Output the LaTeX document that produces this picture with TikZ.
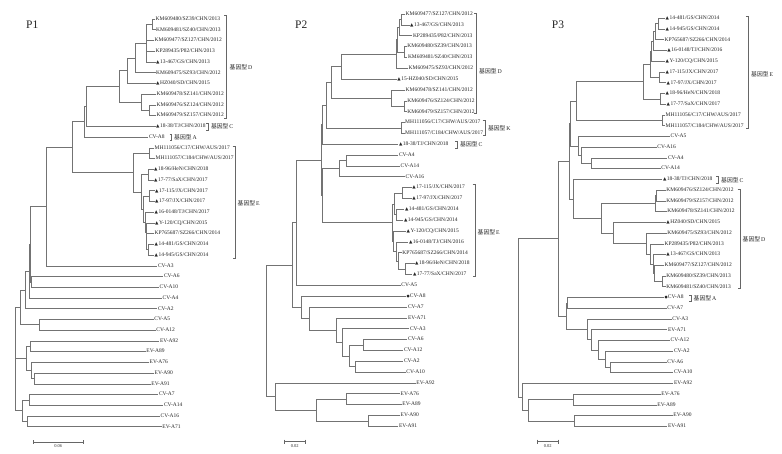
\documentclass[tikz,border=0pt]{standalone}
\usepackage{fontspec}
\setmainfont{Liberation Serif}
\newfontfamily\cjkfont{Noto Sans CJK SC}
\newfontfamily\symfont{DejaVu Sans}
\newcommand\lblsize{\fontsize{5.5}{6.5}\selectfont}
\newcommand\tri{{\symfont\fontsize{4.4}{5}\selectfont ▲}\hspace{0.5pt}}
\newcommand\dotm{{\symfont\fontsize{3.6}{5}\selectfont ●}}
\newcommand\gtlabel[1]{{\cjkfont\fontsize{5.8}{6.5}\selectfont 基因型}\,#1}
\newcommand\tedges[2]{\foreach \c in {#2}{\draw[br] (#1) |- (\c);}}
\tikzset{
  br/.style={draw=black!55, line width=0.55pt},
  leaf/.style={anchor=west, inner xsep=0.5pt, inner ysep=0pt, font=\lblsize, text=black!85, text height=3.8pt, text depth=1.1pt},
  gtype/.style={anchor=west, inner sep=0pt, font=\fontsize{5.8}{6.5}\selectfont, text=black!85},
  brk/.style={draw=black!60, line width=0.5pt},
  ptitle/.style={anchor=base west, inner sep=0pt, font=\fontsize{11.5}{12}\selectfont, text=black!85},
  sbar/.style={draw=black!60, line width=0.5pt},
  slabel/.style={anchor=north, inner sep=0pt, font=\fontsize{4.5}{5}\selectfont, text=black!80}
}
\begin{document}
\begin{tikzpicture}[x=1pt,y=-1pt]
\fill[white] (0,0) rectangle (782,453);
\useasboundingbox (0,0) rectangle (782,453);

%% ================= P1 =================
\node[ptitle] (t1) at (26,28.7) {P1};
\node[leaf] (p1l1) at (155,19.0) {KM609480/SZ39/CHN/2013};
\node[leaf] (p1l2) at (155.5,29.7) {KM609481/SZ40/CHN/2013};
\node[leaf] (p1l3) at (154,40.5) {KM609477/SZ127/CHN/2012};
\node[leaf] (p1l4) at (155,51.2) {KP289435/P82/CHN/2013};
\node[leaf] (p1l5) at (155.5,61.9) {\tri 13-467/GS/CHN/2013};
\node[leaf] (p1l6) at (155.5,72.7) {KM609475/SZ93/CHN/2012};
\node[leaf] (p1l7) at (155.5,83.4) {\tri HZ040/SD/CHN/2015};
\node[leaf] (p1l8) at (156,94.1) {KM609478/SZ141/CHN/2012};
\node[leaf] (p1l9) at (156,104.8) {KM609476/SZ124/CHN/2012};
\node[leaf] (p1l10) at (156,115.6) {KM609479/SZ157/CHN/2012};
\node[leaf] (p1l11) at (155.5,126.3) {\tri 18-38/TJ/CHN/2018};
\node[leaf] (p1l12) at (148.3,137.0) {CV-A8};
\node[leaf] (p1l13) at (154,147.8) {MH111056/C17/CHW/AUS/2017};
\node[leaf] (p1l14) at (155,158.5) {MH111057/C184/CHW/AUS/2017};
\node[leaf] (p1l15) at (153.5,169.2) {\tri 18-96/HeN/CHN/2018};
\node[leaf] (p1l16) at (153.5,179.9) {\tri 17-77/SaX/CHN/2017};
\node[leaf] (p1l17) at (154.5,190.7) {\tri 17-115/JX/CHN/2017};
\node[leaf] (p1l18) at (154.5,201.4) {\tri 17-97/JX/CHN/2017};
\node[leaf] (p1l19) at (154,212.1) {\tri 16-0148/TJ/CHN/2017};
\node[leaf] (p1l20) at (154.5,222.9) {\tri Y-120/CQ/CHN/2015};
\node[leaf] (p1l21) at (154,233.6) {KP765687/SZ266/CHN/2014};
\node[leaf] (p1l22) at (154,244.3) {\tri 14-481/GS/CHN/2014};
\node[leaf] (p1l23) at (154,255.0) {\tri 14-945/GS/CHN/2014};
\node[leaf] (p1l24) at (157.3,265.8) {CV-A3};
\node[leaf] (p1l25) at (163.3,276.5) {CV-A6};
\node[leaf] (p1l26) at (159,287.2) {CV-A10};
\node[leaf] (p1l27) at (162,298.0) {CV-A4};
\node[leaf] (p1l28) at (157.3,308.7) {CV-A2};
\node[leaf] (p1l29) at (153.7,319.4) {CV-A5};
\node[leaf] (p1l30) at (155.7,330.1) {CV-A12};
\node[leaf] (p1l31) at (159.3,340.9) {EV-A92};
\node[leaf] (p1l32) at (145.7,351.6) {EV-A89};
\node[leaf] (p1l33) at (149,362.3) {EV-A76};
\node[leaf] (p1l34) at (154,373.1) {EV-A90};
\node[leaf] (p1l35) at (150.7,383.8) {EV-A91};
\node[leaf] (p1l36) at (158.3,394.5) {CV-A7};
\node[leaf] (p1l37) at (163.3,405.2) {CV-A14};
\node[leaf] (p1l38) at (160,416.0) {CV-A16};
\node[leaf] (p1l39) at (161.7,426.7) {EV-A71};

\coordinate (p1a) at (152.5,24.35);
\coordinate (p1b) at (146,43.1);
\coordinate (p1c) at (135.7,57.9);
\coordinate (p1d) at (127.3,70.7);
\coordinate (p1e) at (149.3,110.2);
\coordinate (p1f) at (141,102.2);
\coordinate (p1g) at (119.7,86.45);
\coordinate (p1h) at (86.7,106.4);
\coordinate (p1i) at (84.3,121.7);
\coordinate (p1j) at (149,153.15);
\coordinate (p1k) at (148.5,174.55);
\coordinate (p1l) at (149.5,196.05);
\coordinate (p1m) at (148.5,249.65);
\coordinate (p1n) at (146.7,241.6);
\coordinate (p1o) at (146,232.25);
\coordinate (p1p) at (145.3,222.2);
\coordinate (p1q) at (143.3,209.1);
\coordinate (p1r) at (141.7,191.8);
\coordinate (p1s) at (133.3,172.5);
\coordinate (p1t) at (72.7,147.1);
\coordinate (p1u) at (46.7,206.45);
\coordinate (p1v) at (31.7,281.85);
\coordinate (p1w) at (30.7,244.15);
\coordinate (p1x) at (29.3,271.1);
\coordinate (p1y) at (25,289.9);
\coordinate (p1z) at (39.3,324.75);
\coordinate (p1A) at (20.7,307.3);
\coordinate (p1B) at (30.7,346.25);
\coordinate (p1C) at (34,378.45);
\coordinate (p1D) at (31.7,370.4);
\coordinate (p1E) at (26.7,358.3);
\coordinate (p1F) at (29.3,399.85);
\coordinate (p1G) at (27.3,421.35);
\coordinate (p1H) at (22.7,410.6);
\coordinate (p1I) at (15.7,332.8);
\coordinate (p1J) at (15.7,371.7);

\tedges{p1a}{p1l1.west,p1l2.west}
\tedges{p1b}{p1a,p1l3.west,p1l4.west,p1l5.west}
\tedges{p1c}{p1b,p1l6.west}
\tedges{p1d}{p1c,p1l7.west}
\tedges{p1e}{p1l9.west,p1l10.west}
\tedges{p1f}{p1l8.west,p1e}
\tedges{p1g}{p1d,p1f}
\tedges{p1h}{p1g,p1l11.west}
\tedges{p1i}{p1h,p1l12.west}
\tedges{p1j}{p1l13.west,p1l14.west}
\tedges{p1k}{p1l15.west,p1l16.west}
\tedges{p1l}{p1l17.west,p1l18.west}
\tedges{p1m}{p1l22.west,p1l23.west}
\tedges{p1n}{p1l21.west,p1m}
\tedges{p1o}{p1l20.west,p1n}
\tedges{p1p}{p1l19.west,p1o}
\tedges{p1q}{p1l,p1p}
\tedges{p1r}{p1k,p1q}
\tedges{p1s}{p1j,p1r}
\tedges{p1t}{p1i,p1s}
\tedges{p1u}{p1t,p1l24.west}
\tedges{p1v}{p1l25.west,p1l26.west}
\tedges{p1w}{p1u,p1v}
\tedges{p1x}{p1w,p1l27.west}
\tedges{p1y}{p1x,p1l28.west}
\tedges{p1z}{p1l29.west,p1l30.west}
\tedges{p1A}{p1y,p1z}
\tedges{p1B}{p1l31.west,p1l32.west}
\tedges{p1C}{p1l34.west,p1l35.west}
\tedges{p1D}{p1l33.west,p1C}
\tedges{p1E}{p1B,p1D}
\tedges{p1F}{p1l36.west,p1l37.west}
\tedges{p1G}{p1l38.west,p1l39.west}
\tedges{p1H}{p1F,p1G}
\tedges{p1I}{p1A,p1E}
\tedges{p1J}{p1I,p1H}

% brackets P1
\draw[brk] (224.2,15.5) -- (226.7,15.5) -- (226.7,118.5) -- (224.2,118.5);
\node[gtype] (g1d) at (229.5,67.3) {\gtlabel{D}};
\draw[brk] (206,123.2) -- (208,123.2) -- (208,129.8) -- (206,129.8);
\node[gtype] (g1c) at (210.8,126.5) {\gtlabel{C}};
\draw[brk] (169.7,133.8) -- (171.7,133.8) -- (171.7,140.3) -- (169.7,140.3);
\node[gtype] (g1a) at (174,137) {\gtlabel{A}};
\draw[brk] (232.5,146) -- (235,146) -- (235,258.5) -- (232.5,258.5);
\node[gtype] (g1e) at (237.5,203) {\gtlabel{E}};
% scale P1
\draw[sbar] (33.3,442.3) -- (83.3,442.3);
\draw[sbar] (33.3,440.3) -- (33.3,444.3);
\draw[sbar] (83.3,440.3) -- (83.3,444.3);
\node[slabel] (s1) at (58.3,444.6) {0.06};

%% ================= P2 =================
\node[ptitle] (t2) at (295,28.3) {P2};
\node[leaf] (p2l1) at (405,14.0) {KM609477/SZ127/CHN/2012};
\node[leaf] (p2l2) at (409.5,24.85) {\tri 13-467/GS/CHN/2013};
\node[leaf] (p2l3) at (412.3,35.7) {KP289435/P82/CHN/2013};
\node[leaf] (p2l4) at (406.7,46.55) {KM609480/SZ39/CHN/2013};
\node[leaf] (p2l5) at (407.3,57.4) {KM609481/SZ40/CHN/2013};
\node[leaf] (p2l6) at (408,68.25) {KM609475/SZ93/CHN/2012};
\node[leaf] (p2l7) at (396.7,79.1) {\tri 15-HZ040/SD/CHN/2015};
\node[leaf] (p2l8) at (405,89.95) {KM609478/SZ141/CHN/2012};
\node[leaf] (p2l9) at (406.7,100.8) {KM609476/SZ124/CHN/2012};
\node[leaf] (p2l10) at (406.7,111.65) {KM609479/SZ157/CHN/2012};
\node[leaf] (p2l11) at (404.5,122.5) {MH111056/C17/CHW/AUS/2017};
\node[leaf] (p2l12) at (404.5,133.35) {MH111057/C184/CHW/AUS/2017};
\node[leaf] (p2l13) at (398.3,144.2) {\tri 18-38/TJ/CHN/2018};
\node[leaf] (p2l14) at (398.3,155.05) {CV-A4};
\node[leaf] (p2l15) at (400,165.9) {CV-A14};
\node[leaf] (p2l16) at (405,176.75) {CV-A16};
\node[leaf] (p2l17) at (411.7,187.6) {\tri 17-115/JX/CHN/2017};
\node[leaf] (p2l18) at (411.7,198.45) {\tri 17-97/JX/CHN/2017};
\node[leaf] (p2l19) at (404.3,209.3) {\tri 14-481/GS/CHN/2014};
\node[leaf] (p2l20) at (403.3,220.15) {\tri 14-945/GS/CHN/2014};
\node[leaf] (p2l21) at (406,231.0) {\tri Y-120/CQ/CHN/2015};
\node[leaf] (p2l22) at (408.3,241.85) {\tri 16-0148/TJ/CHN/2016};
\node[leaf] (p2l23) at (401.7,252.7) {KP765687/SZ266/CHN/2014};
\node[leaf] (p2l24) at (414.5,263.55) {\tri 18-96/HeN/CHN/2018};
\node[leaf] (p2l25) at (412.3,274.4) {\tri 17-77/SaX/CHN/2017};
\node[leaf] (p2l26) at (400.7,285.25) {CV-A5};
\node[leaf] (p2l27) at (406,296.1) {\dotm CV-A8};
\node[leaf] (p2l28) at (407.3,306.95) {CV-A7};
\node[leaf] (p2l29) at (407.3,317.8) {EV-A71};
\node[leaf] (p2l30) at (409.3,328.65) {CV-A3};
\node[leaf] (p2l31) at (407.3,339.5) {CV-A6};
\node[leaf] (p2l32) at (403.3,350.35) {CV-A12};
\node[leaf] (p2l33) at (403.3,361.2) {CV-A2};
\node[leaf] (p2l34) at (405.7,372.05) {CV-A10};
\node[leaf] (p2l35) at (415.7,382.9) {EV-A92};
\node[leaf] (p2l36) at (400,393.75) {EV-A76};
\node[leaf] (p2l37) at (401.7,404.6) {EV-A89};
\node[leaf] (p2l38) at (400,415.45) {EV-A90};
\node[leaf] (p2l39) at (398.3,426.3) {EV-A91};

\coordinate (p2a) at (401.7,19.43);
\coordinate (p2b) at (399.3,27.56);
\coordinate (p2c) at (404.5,51.98);
\coordinate (p2d) at (397.7,39.77);
\coordinate (p2e) at (396,54.0);
\coordinate (p2f) at (341.7,66.55);
\coordinate (p2g) at (404,106.23);
\coordinate (p2h) at (391.7,98.09);
\coordinate (p2i) at (331.7,82.32);
\coordinate (p2j) at (401.7,127.93);
\coordinate (p2k) at (326.7,105.1);
\coordinate (p2l) at (322.7,124.65);
\coordinate (p2m) at (346.7,160.48);
\coordinate (p2n) at (339.3,168.6);
\coordinate (p2o) at (402.7,193.03);
\coordinate (p2p) at (396,214.73);
\coordinate (p2q) at (394,203.9);
\coordinate (p2r) at (405.7,268.98);
\coordinate (p2s) at (398,260.84);
\coordinate (p2t) at (396,251.35);
\coordinate (p2u) at (393.3,241.17);
\coordinate (p2v) at (392.7,222.5);
\coordinate (p2w) at (322.7,195.55);
\coordinate (p2x) at (321,160.1);
\coordinate (p2y) at (296,222.68);
\coordinate (p2aa) at (363.3,344.93);
\coordinate (p2bb) at (355.3,366.63);
\coordinate (p2cc) at (349.3,355.78);
\coordinate (p2dd) at (342.7,342.2);
\coordinate (p2ee) at (336,330.0);
\coordinate (p2ff) at (309,318.5);
\coordinate (p2gg) at (301.7,307.3);
\coordinate (p2z) at (292.3,265.0);
\coordinate (p2hh) at (346,399.18);
\coordinate (p2ii) at (368.3,420.88);
\coordinate (p2jj) at (316.7,410.03);
\coordinate (p2kk) at (275,396.45);
\coordinate (p2root) at (266,330.7);

\tedges{p2a}{p2l1.west,p2l2.west}
\tedges{p2b}{p2a,p2l3.west}
\tedges{p2c}{p2l4.west,p2l5.west}
\tedges{p2d}{p2b,p2c}
\tedges{p2e}{p2d,p2l6.west}
\tedges{p2f}{p2e,p2l7.west}
\tedges{p2g}{p2l9.west,p2l10.west}
\tedges{p2h}{p2l8.west,p2g}
\tedges{p2i}{p2f,p2h}
\tedges{p2j}{p2l11.west,p2l12.west}
\tedges{p2k}{p2i,p2j}
\tedges{p2l}{p2k,p2l13.west}
\tedges{p2m}{p2l14.west,p2l15.west}
\tedges{p2n}{p2m,p2l16.west}
\tedges{p2o}{p2l17.west,p2l18.west}
\tedges{p2p}{p2l19.west,p2l20.west}
\tedges{p2q}{p2o,p2p}
\tedges{p2r}{p2l24.west,p2l25.west}
\tedges{p2s}{p2l23.west,p2r}
\tedges{p2t}{p2l22.west,p2s}
\tedges{p2u}{p2l21.west,p2t}
\tedges{p2v}{p2q,p2u}
\tedges{p2w}{p2n,p2v}
\tedges{p2x}{p2l,p2w}
\tedges{p2y}{p2x,p2l26.west}
\tedges{p2aa}{p2l31.west,p2l32.west}
\tedges{p2bb}{p2l33.west,p2l34.west}
\tedges{p2cc}{p2aa,p2bb}
\tedges{p2dd}{p2l30.west,p2cc}
\tedges{p2ee}{p2l29.west,p2dd}
\tedges{p2ff}{p2l28.west,p2ee}
\tedges{p2gg}{p2l27.west,p2ff}
\tedges{p2z}{p2y,p2gg}
\tedges{p2hh}{p2l36.west,p2l37.west}
\tedges{p2ii}{p2l38.west,p2l39.west}
\tedges{p2jj}{p2hh,p2ii}
\tedges{p2kk}{p2l35.west,p2jj}
\tedges{p2root}{p2z,p2kk}

% brackets P2
\draw[brk] (474.2,13.3) -- (476.7,13.3) -- (476.7,113.3) -- (474.2,113.3);
\node[gtype] (g2d) at (479,71.7) {\gtlabel{D}};
\draw[brk] (482.5,120.2) -- (485,120.2) -- (485,135.5) -- (482.5,135.5);
\node[gtype] (g2k) at (487.8,128) {\gtlabel{K}};
\draw[brk] (455.3,140.8) -- (457.3,140.8) -- (457.3,147.8) -- (455.3,147.8);
\node[gtype] (g2c) at (460,144.5) {\gtlabel{C}};
\draw[brk] (472.5,184.3) -- (475,184.3) -- (475,276.7) -- (472.5,276.7);
\node[gtype] (g2e) at (477.5,232.3) {\gtlabel{E}};
% scale P2
\draw[sbar] (284.3,441.7) -- (305,441.7);
\draw[sbar] (284.3,439.7) -- (284.3,443.7);
\draw[sbar] (305,439.7) -- (305,443.7);
\node[slabel] (s2) at (294.7,444) {0.02};

%% ================= P3 =================
\node[ptitle] (t3) at (551.7,28.3) {P3};
\node[leaf] (p3l1) at (665,18.3) {\tri 14-481/GS/CHN/2014};
\node[leaf] (p3l2) at (665,29.04) {\tri 14-945/GS/CHN/2014};
\node[leaf] (p3l3) at (664,39.77) {KP765687/SZ266/CHN/2014};
\node[leaf] (p3l4) at (666.7,50.51) {\tri 16-0148/TJ/CHN/2016};
\node[leaf] (p3l5) at (665,61.25) {\tri Y-120/CQ/CHN/2015};
\node[leaf] (p3l6) at (665,71.99) {\tri 17-115/JX/CHN/2017};
\node[leaf] (p3l7) at (666,82.72) {\tri 17-97/JX/CHN/2017};
\node[leaf] (p3l8) at (665,93.46) {\tri 18-96/HeN/CHN/2018};
\node[leaf] (p3l9) at (666,104.2) {\tri 17-77/SaX/CHN/2017};
\node[leaf] (p3l10) at (665,114.93) {MH111056/C17/CHW/AUS/2017};
\node[leaf] (p3l11) at (665,125.67) {MH111057/C184/CHW/AUS/2017};
\node[leaf] (p3l12) at (670,136.41) {CV-A5};
\node[leaf] (p3l13) at (656.7,147.14) {CV-A16};
\node[leaf] (p3l14) at (667.3,157.88) {CV-A4};
\node[leaf] (p3l15) at (660.7,168.62) {CV-A14};
\node[leaf] (p3l16) at (662.3,179.36) {\tri 18-38/TJ/CHN/2018};
\node[leaf] (p3l17) at (665.7,190.09) {KM609476/SZ124/CHN/2012};
\node[leaf] (p3l18) at (665.7,200.83) {KM609479/SZ157/CHN/2012};
\node[leaf] (p3l19) at (666.7,211.57) {KM609478/SZ141/CHN/2012};
\node[leaf] (p3l20) at (665.7,222.3) {\tri HZ040/SD/CHN/2015};
\node[leaf] (p3l21) at (666.7,233.04) {KM609475/SZ93/CHN/2012};
\node[leaf] (p3l22) at (664,243.78) {KP289435/P82/CHN/2013};
\node[leaf] (p3l23) at (665.7,254.52) {\tri 13-467/GS/CHN/2013};
\node[leaf] (p3l24) at (664,265.25) {KM609477/SZ127/CHN/2012};
\node[leaf] (p3l25) at (665.7,275.99) {KM609480/SZ39/CHN/2013};
\node[leaf] (p3l26) at (665.7,286.73) {KM609481/SZ40/CHN/2013};
\node[leaf] (p3l27) at (664,297.46) {\dotm CV-A8};
\node[leaf] (p3l28) at (666.7,308.2) {CV-A7};
\node[leaf] (p3l29) at (671.7,318.94) {CV-A3};
\node[leaf] (p3l30) at (667.3,329.67) {EV-A71};
\node[leaf] (p3l31) at (670,340.41) {CV-A12};
\node[leaf] (p3l32) at (673.3,351.15) {CV-A2};
\node[leaf] (p3l33) at (666.7,361.89) {CV-A6};
\node[leaf] (p3l34) at (673.3,372.62) {CV-A10};
\node[leaf] (p3l35) at (673.3,383.36) {EV-A92};
\node[leaf] (p3l36) at (660.7,394.1) {EV-A76};
\node[leaf] (p3l37) at (656.7,404.83) {EV-A89};
\node[leaf] (p3l38) at (672.7,415.57) {EV-A90};
\node[leaf] (p3l39) at (667.3,426.3) {EV-A91};

\coordinate (p3a) at (658.3,23.67);
\coordinate (p3b) at (655,31.72);
\coordinate (p3c) at (653.3,41.1);
\coordinate (p3d) at (651.7,51.18);
\coordinate (p3e) at (659.3,77.36);
\coordinate (p3f) at (650,64.27);
\coordinate (p3g) at (660,98.83);
\coordinate (p3h) at (643.7,81.55);
\coordinate (p3i) at (662.5,120.3);
\coordinate (p3j) at (576.7,100.93);
\coordinate (p3k) at (591.7,163.25);
\coordinate (p3l) at (581.7,155.2);
\coordinate (p3m) at (578.3,145.8);
\coordinate (p3n) at (570.7,123.37);
\coordinate (p3o) at (656.7,195.46);
\coordinate (p3p) at (655.7,203.5);
\coordinate (p3q) at (662,281.36);
\coordinate (p3r) at (654.7,273.3);
\coordinate (p3s) at (653.3,263.9);
\coordinate (p3t) at (650,253.85);
\coordinate (p3u) at (646.7,243.45);
\coordinate (p3v) at (613.3,232.9);
\coordinate (p3w) at (601.7,218.2);
\coordinate (p3x) at (573.3,198.78);
\coordinate (p3y) at (569.7,161.08);
\coordinate (p3z) at (567.3,302.83);
\coordinate (p3A) at (610,367.26);
\coordinate (p3B) at (605,359.2);
\coordinate (p3C) at (598.3,349.8);
\coordinate (p3D) at (591.7,339.75);
\coordinate (p3E) at (587.3,329.35);
\coordinate (p3F) at (566,316.1);
\coordinate (p3G) at (558.3,238.6);
\coordinate (p3H) at (573.3,399.47);
\coordinate (p3I) at (574,420.94);
\coordinate (p3J) at (528.3,410.2);
\coordinate (p3K) at (522.7,396.8);
\coordinate (p3root) at (518.3,317.7);

\tedges{p3a}{p3l1.west,p3l2.west}
\tedges{p3b}{p3a,p3l3.west}
\tedges{p3c}{p3b,p3l4.west}
\tedges{p3d}{p3c,p3l5.west}
\tedges{p3e}{p3l6.west,p3l7.west}
\tedges{p3f}{p3d,p3e}
\tedges{p3g}{p3l8.west,p3l9.west}
\tedges{p3h}{p3f,p3g}
\tedges{p3i}{p3l10.west,p3l11.west}
\tedges{p3j}{p3h,p3i}
\tedges{p3k}{p3l14.west,p3l15.west}
\tedges{p3l}{p3l13.west,p3k}
\tedges{p3m}{p3l12.west,p3l}
\tedges{p3n}{p3j,p3m}
\tedges{p3o}{p3l17.west,p3l18.west}
\tedges{p3p}{p3o,p3l19.west}
\tedges{p3q}{p3l25.west,p3l26.west}
\tedges{p3r}{p3l24.west,p3q}
\tedges{p3s}{p3l23.west,p3r}
\tedges{p3t}{p3l22.west,p3s}
\tedges{p3u}{p3l21.west,p3t}
\tedges{p3v}{p3l20.west,p3u}
\tedges{p3w}{p3p,p3v}
\tedges{p3x}{p3l16.west,p3w}
\tedges{p3y}{p3n,p3x}
\tedges{p3z}{p3l27.west,p3l28.west}
\tedges{p3A}{p3l33.west,p3l34.west}
\tedges{p3B}{p3l32.west,p3A}
\tedges{p3C}{p3l31.west,p3B}
\tedges{p3D}{p3l30.west,p3C}
\tedges{p3E}{p3l29.west,p3D}
\tedges{p3F}{p3z,p3E}
\tedges{p3G}{p3y,p3F}
\tedges{p3H}{p3l36.west,p3l37.west}
\tedges{p3I}{p3l38.west,p3l39.west}
\tedges{p3J}{p3H,p3I}
\tedges{p3K}{p3l35.west,p3J}
\tedges{p3root}{p3G,p3K}

% brackets P3
\draw[brk] (745.8,16) -- (748.3,16) -- (748.3,128.3) -- (745.8,128.3);
\node[gtype] (g3e) at (751,74) {\gtlabel{E}};
\draw[brk] (716.3,176.5) -- (718.3,176.5) -- (718.3,183.3) -- (716.3,183.3);
\node[gtype] (g3c) at (721,180) {\gtlabel{C}};
\draw[brk] (737.5,189.3) -- (740,189.3) -- (740,288.3) -- (737.5,288.3);
\node[gtype] (g3d) at (742.5,239.3) {\gtlabel{D}};
\draw[brk] (689,295) -- (691,295) -- (691,301.5) -- (689,301.5);
\node[gtype] (g3a) at (693.5,298.3) {\gtlabel{A}};
% scale P3
\draw[sbar] (537.3,441.7) -- (558.3,441.7);
\draw[sbar] (537.3,439.7) -- (537.3,443.7);
\draw[sbar] (558.3,439.7) -- (558.3,443.7);
\node[slabel] (s3) at (547.8,444) {0.02};
\end{tikzpicture}
\end{document}
